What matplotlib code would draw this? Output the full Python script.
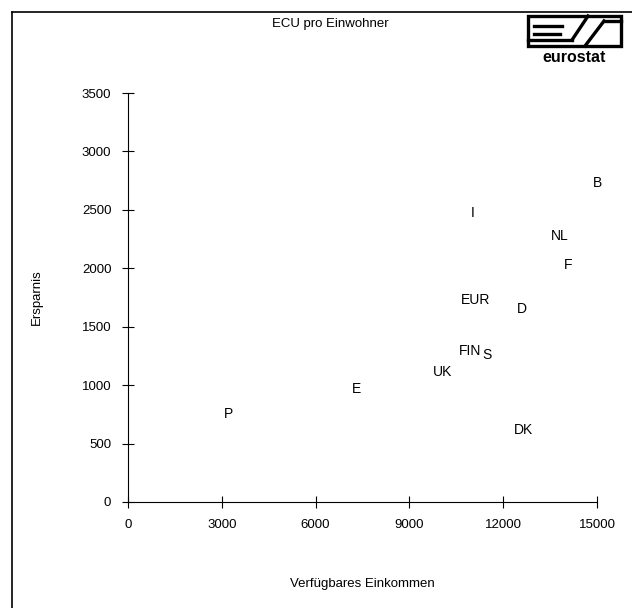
import matplotlib.pyplot as plt
from matplotlib.lines import Line2D
from matplotlib.patches import Rectangle

plt.rcParams['font.family'] = ['Liberation Sans', 'DejaVu Sans']

# Verfügbares Einkommen / Ersparnis, ECU pro Einwohner
laender = ['B', 'I', 'NL', 'F', 'EUR', 'D', 'FIN', 'S', 'UK', 'E', 'P', 'DK']
einkommen = [15000, 11030, 13800, 14070, 11130, 12600, 10940, 11480, 10070, 7320, 3230, 12660]
ersparnis = [2730, 2470, 2280, 2030, 1730, 1650, 1290, 1260, 1110, 970, 750, 620]

W, H = 632, 608
fig = plt.figure(figsize=(W / 100, H / 100), dpi=100)

ax = fig.add_axes([128 / W, 1 - 502 / H, (597 - 128) / W, (502 - 93) / H])
for x, y, t in zip(einkommen, ersparnis, laender):
    ax.text(x, y, t, ha='center', va='center', fontsize=10)

ax.set_xlim(0, 15000)
ax.set_ylim(0, 3500)
ax.set_xticks(range(0, 15001, 3000))
ax.set_yticks(range(0, 3501, 500))
ax.spines['top'].set_visible(False)
ax.spines['right'].set_visible(False)
ax.tick_params(direction='inout', length=8, width=0.8, labelsize=9.5, pad=8)
ax.set_xlabel('Verfügbares Einkommen', fontsize=9.5, labelpad=34)
ax.set_ylabel('Ersparnis', fontsize=9.5, labelpad=28)

fig.text(330 / W, 1 - 24 / H, 'ECU pro Einwohner', ha='center', va='center', fontsize=9.5)

# Rahmen
fig.add_artist(Line2D([12 / W, 12 / W], [0, 1 - 12 / H], color='black', lw=1.2))
fig.add_artist(Line2D([12 / W, 1], [1 - 12 / H, 1 - 12 / H], color='black', lw=1.2))

# eurostat logo
def px(x, y):
    return x / W, 1 - y / H

fig.add_artist(Rectangle(px(528, 46), 93 / W, 30 / H, fill=False, lw=2.4, color='black'))
for (x0, y0), (x1, y1) in [((534, 26), (562, 26)), ((534, 34), (560, 34)), ((528, 40), (572, 40)),
                           ((572, 40), (588, 16)), ((585, 46), (604, 21)), ((604, 21), (621, 21))]:
    a, b = px(x0, y0)
    c, d = px(x1, y1)
    fig.add_artist(Line2D([a, c], [b, d], color='black', lw=2.4))
fig.text(574 / W, 1 - 57 / H, 'eurostat', ha='center', va='center', fontsize=11.5, fontweight='bold')

fig.savefig('out.png', dpi=100)
